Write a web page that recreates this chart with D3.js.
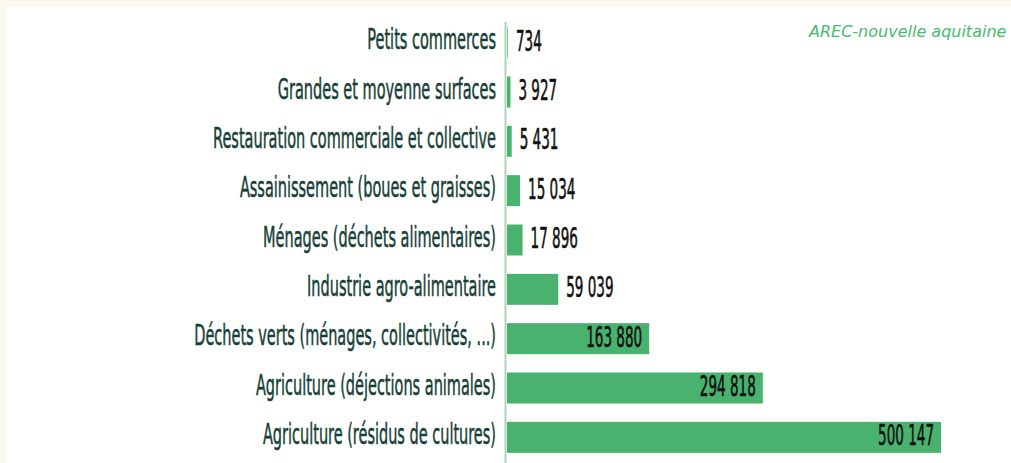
<!DOCTYPE html>
<html><head><meta charset="utf-8">
<script src="https://cdn.jsdelivr.net/npm/d3@7"></script>
<style>
html,body{margin:0;padding:0;background:#fbf8ef;}
svg{display:block;}
</style></head>
<body>
<svg id="chart" width="1011" height="463"></svg>
<script>
const categories = [
  "Petits commerces",
  "Grandes et moyenne surfaces",
  "Restauration commerciale et collective",
  "Assainissement (boues et graisses)",
  "Ménages (déchets alimentaires)",
  "Industrie agro-alimentaire",
  "Déchets verts (ménages, collectivités, ...)",
  "Agriculture (déjections animales)",
  "Agriculture (résidus de cultures)"
];
const values = [734, 3927, 5431, 15034, 17896, 59039, 163880, 294818, 500147];
const sourceLabel = "AREC-nouvelle aquitaine";

const svg = d3.select("#chart");
const W = 1011, H = 463;
const FONT = "'Liberation Sans Narrow','DejaVu Sans Condensed','Roboto',sans-serif";

svg.append("rect").attr("x",0).attr("y",0).attr("width",W).attr("height",H).attr("fill","#fbf8ef");
svg.append("rect").attr("x",7).attr("y",7).attr("width",W-7).attr("height",H-7).attr("fill","#ffffff");

const x = d3.scaleLinear().domain([0, d3.max(values)]).range([507, 941]);
const y = d3.scaleBand().domain(categories).range([18, 462]).paddingInner(0.371).paddingOuter(0.1855);

const fmt = d3.formatLocale({decimal:",", thousands:" ", grouping:[3], currency:["","€"]}).format(",d");

const data = categories.map((c,i)=>({cat:c, val:values[i]}));

// bars
svg.append("g").selectAll("rect").data(data).join("rect")
  .attr("x", x(0))
  .attr("y", d=>y(d.cat))
  .attr("width", d=>Math.max(0, x(d.val)-x(0)))
  .attr("height", y.bandwidth())
  .attr("fill", "#49b26f");

// axis line
svg.append("line").attr("x1",505.5).attr("x2",505.5).attr("y1",22).attr("y2",H)
  .attr("stroke","#a9d7b4").attr("stroke-width",2);

// category labels
const labelG = svg.append("g");
const labels = labelG.selectAll("text").data(data).join("text")
  .text(d=>d.cat)
  .attr("font-family", FONT)
  .attr("font-size", 28)
  .attr("fill", "#173f38")
  .attr("stroke", "#173f38")
  .attr("stroke-width", 0.5)
  .attr("text-anchor","end");
let maxW = 0;
labels.each(function(){ maxW = Math.max(maxW, this.getComputedTextLength()); });
const sxL = 302 / maxW;
labels.attr("transform", d=>`translate(496,${y(d.cat)+y.bandwidth()/2+6.5}) scale(${sxL},1)`);

// value labels
const valG = svg.append("g");
const vals = valG.selectAll("text").data(data).join("text")
  .text(d=>fmt(d.val))
  .attr("font-family", FONT)
  .attr("font-size", 29)
  .attr("fill", "#111111")
  .attr("stroke", "#111111")
  .attr("stroke-width", 0.6);
let refW = 0;
vals.each(function(d){ if(d.val===d3.max(values)) refW = this.getComputedTextLength(); });
const sxV = 56 / refW;
vals.each(function(d){
  const w = this.getComputedTextLength()*sxV;
  const barW = x(d.val)-x(0);
  const inside = barW > w + 16;
  const cy = y(d.cat)+y.bandwidth()/2+8;
  const sel = d3.select(this);
  if(inside){
    sel.attr("text-anchor","end").attr("transform",`translate(${x(d.val)-7},${cy}) scale(${sxV},1)`);
  } else {
    sel.attr("text-anchor","start").attr("transform",`translate(${Math.max(x(d.val),x(0)+1)+8},${cy}) scale(${sxV},1)`);
  }
});

// source
svg.append("text").text(sourceLabel)
  .attr("x", 809).attr("y", 37)
  .attr("font-family","'DejaVu Sans','Noto Sans',sans-serif")
  .attr("font-style","italic")
  .attr("font-size", 16)
  .attr("fill","#45bb6f");
</script>
</body></html>
